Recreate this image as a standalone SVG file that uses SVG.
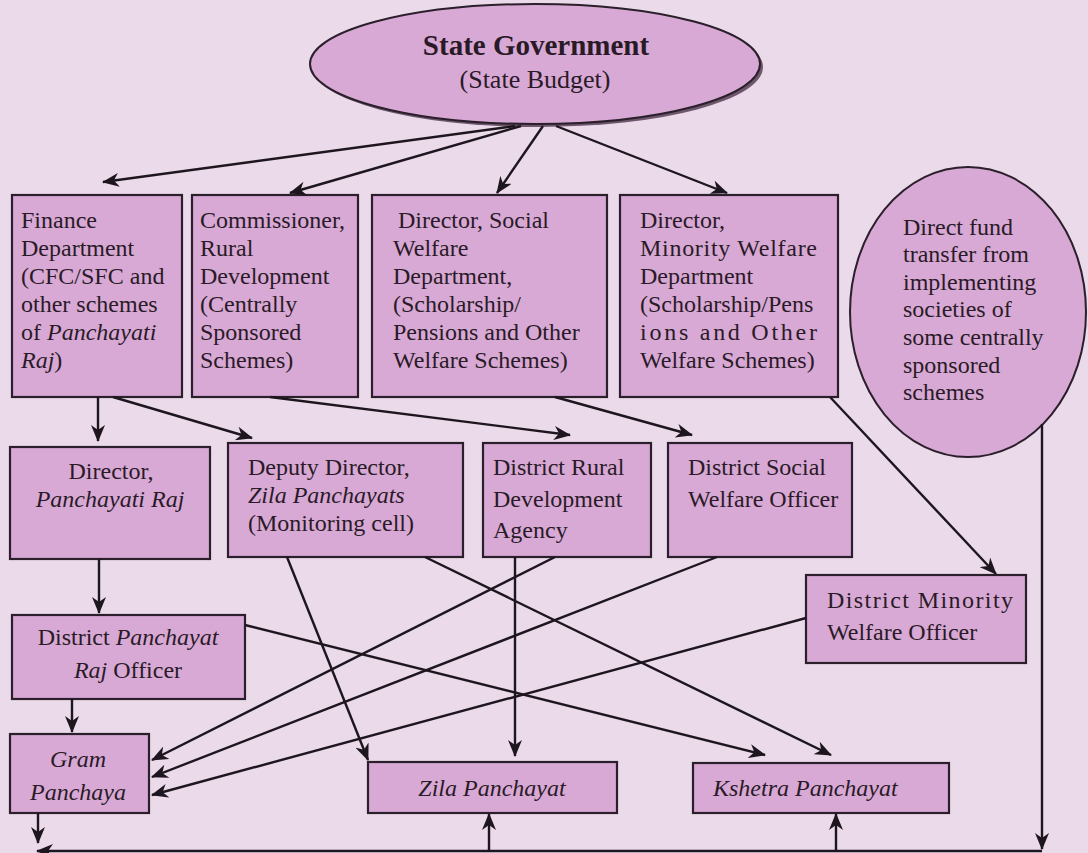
<svg xmlns="http://www.w3.org/2000/svg" width="1088" height="853" viewBox="0 0 1088 853">
<defs>
<marker id="ah" markerWidth="17" markerHeight="14" refX="16" refY="7" orient="auto" markerUnits="userSpaceOnUse">
<path d="M0,0 L17,7 L0,14 L5,7 z" fill="#1e161e"/>
</marker>
<style>
.bg{fill:#eadaea}
.box{fill:#d8a9d4;stroke:#2a1f2a;stroke-width:2.2}
.t{font-family:"Liberation Serif","Times New Roman",serif;font-size:24px;fill:#2a1a28}
.i{font-style:italic}
.c{text-anchor:middle}
.ln{fill:none;stroke:#1e161e;stroke-width:2.4}
.a{marker-end:url(#ah)}
</style>
</defs>
<rect class="bg" x="0" y="0" width="1088" height="853"/>

<g id="state-government">
<ellipse cx="538" cy="67" rx="225" ry="60" fill="#6e566c"/>
<ellipse cx="535" cy="64" rx="225" ry="60" fill="#d8a9d4" stroke="#2a1f2a" stroke-width="2"/>
<text class="t c" x="536" y="55" style="font-size:29px;font-weight:bold">State Government</text>
<text class="t c" x="535" y="88" style="font-size:26px">(State Budget)</text>
</g>

<g id="finance">
<rect class="box" x="12" y="195" width="170" height="202"/>
<text class="t" x="21" y="228">Finance</text>
<text class="t" x="21" y="256">Department</text>
<text class="t" x="21" y="284">(CFC/SFC and</text>
<text class="t" x="21" y="312">other schemes</text>
<text class="t" x="21" y="340">of <tspan class="i">Panchayati</tspan></text>
<text class="t" x="21" y="368"><tspan class="i">Raj</tspan>)</text>
</g>

<g id="commissioner">
<rect class="box" x="192" y="195" width="166" height="202"/>
<text class="t" x="200" y="228">Commissioner,</text>
<text class="t" x="200" y="256">Rural</text>
<text class="t" x="200" y="284">Development</text>
<text class="t" x="200" y="312">(Centrally</text>
<text class="t" x="200" y="340">Sponsored</text>
<text class="t" x="200" y="368">Schemes)</text>
</g>

<g id="director-social">
<rect class="box" x="372" y="195" width="235" height="202"/>
<text class="t" x="398" y="228">Director, Social</text>
<text class="t" x="393" y="256">Welfare</text>
<text class="t" x="393" y="284">Department,</text>
<text class="t" x="393" y="312">(Scholarship/</text>
<text class="t" x="393" y="340">Pensions and Other</text>
<text class="t" x="393" y="368">Welfare Schemes)</text>
</g>

<g id="director-minority">
<rect class="box" x="620" y="195" width="218" height="202"/>
<text class="t" x="640" y="228">Director,</text>
<text class="t" x="640" y="256" textLength="177" lengthAdjust="spacing">Minority Welfare</text>
<text class="t" x="640" y="284">Department</text>
<text class="t" x="640" y="312">(Scholarship/Pens</text>
<text class="t" x="640" y="340" textLength="177" lengthAdjust="spacing">ions and Other</text>
<text class="t" x="640" y="368">Welfare Schemes)</text>
</g>

<g id="direct-fund">
<ellipse cx="968" cy="312" rx="118" ry="145" fill="#d8a9d4" stroke="#2a1f2a" stroke-width="2"/>
<text class="t" x="903" y="235">Direct fund</text>
<text class="t" x="903" y="262">transfer from</text>
<text class="t" x="903" y="290">implementing</text>
<text class="t" x="903" y="317">societies of</text>
<text class="t" x="903" y="345">some centrally</text>
<text class="t" x="903" y="373">sponsored</text>
<text class="t" x="903" y="400">schemes</text>
</g>

<g id="director-pr">
<rect class="box" x="10" y="447" width="200" height="112"/>
<text class="t c" x="111" y="479">Director,</text>
<text class="t c i" x="110" y="507">Panchayati Raj</text>
</g>

<g id="deputy-director">
<rect class="box" x="228" y="443" width="235" height="114"/>
<text class="t" x="248" y="475">Deputy Director,</text>
<text class="t i" x="248" y="503">Zila Panchayats</text>
<text class="t" x="248" y="531">(Monitoring cell)</text>
</g>

<g id="drda">
<rect class="box" x="483" y="443" width="168" height="114"/>
<text class="t" x="493" y="475">District Rural</text>
<text class="t" x="493" y="507">Development</text>
<text class="t" x="493" y="538">Agency</text>
</g>

<g id="dswo">
<rect class="box" x="668" y="443" width="184" height="114"/>
<text class="t" x="688" y="475">District Social</text>
<text class="t" x="688" y="507">Welfare Officer</text>
</g>

<g id="dmwo">
<rect class="box" x="806" y="575" width="220" height="88"/>
<text class="t" x="827" y="608" textLength="186" lengthAdjust="spacing">District Minority</text>
<text class="t" x="827" y="640">Welfare Officer</text>
</g>

<g id="dpro">
<rect class="box" x="12" y="615" width="233" height="84"/>
<text class="t c" x="128" y="645">District <tspan class="i">Panchayat</tspan></text>
<text class="t c" x="128" y="678"><tspan class="i">Raj</tspan> Officer</text>
</g>

<g id="gram">
<rect class="box" x="10" y="734" width="139" height="79"/>
<text class="t c i" x="78" y="767">Gram</text>
<text class="t c i" x="78" y="800">Panchaya</text>
</g>

<g id="zila">
<rect class="box" x="368" y="762" width="249" height="51"/>
<text class="t c i" x="492" y="796">Zila Panchayat</text>
</g>

<g id="kshetra">
<rect class="box" x="693" y="763" width="256" height="50"/>
<text class="t i" x="713" y="796">Kshetra Panchayat</text>
</g>

<g id="connectors">
<line class="ln a" x1="515" y1="126" x2="103" y2="182"/>
<line class="ln a" x1="521" y1="126" x2="290" y2="193"/>
<line class="ln a" x1="543" y1="126" x2="497" y2="193"/>
<line class="ln a" x1="556" y1="126" x2="727" y2="193"/>

<line class="ln a" x1="98" y1="397" x2="98" y2="441"/>
<line class="ln a" x1="113" y1="397" x2="252" y2="438"/>
<line class="ln a" x1="270" y1="397" x2="570" y2="435"/>
<line class="ln a" x1="555" y1="397" x2="692" y2="435"/>
<line class="ln a" x1="830" y1="397" x2="996" y2="574"/>

<line class="ln a" x1="99" y1="559" x2="99" y2="613"/>
<line class="ln a" x1="72" y1="699" x2="72" y2="732"/>

<line class="ln a" x1="287" y1="557" x2="368" y2="760"/>
<line class="ln a" x1="425" y1="557" x2="831" y2="755"/>
<line class="ln a" x1="515" y1="557" x2="515" y2="756"/>
<line class="ln a" x1="555" y1="557" x2="152" y2="760"/>
<line class="ln a" x1="717" y1="557" x2="152" y2="777"/>
<line class="ln a" x1="806" y1="618" x2="152" y2="795"/>
<line class="ln a" x1="245" y1="625" x2="765" y2="755"/>

<line class="ln a" x1="38" y1="813" x2="38" y2="843"/>
<line class="ln a" x1="1042" y1="424" x2="1042" y2="849"/>
<line class="ln a" x1="1042" y1="851" x2="37" y2="851"/>
<line class="ln a" x1="489" y1="851" x2="489" y2="814"/>
<line class="ln a" x1="836" y1="851" x2="836" y2="814"/>
</g>
</svg>
